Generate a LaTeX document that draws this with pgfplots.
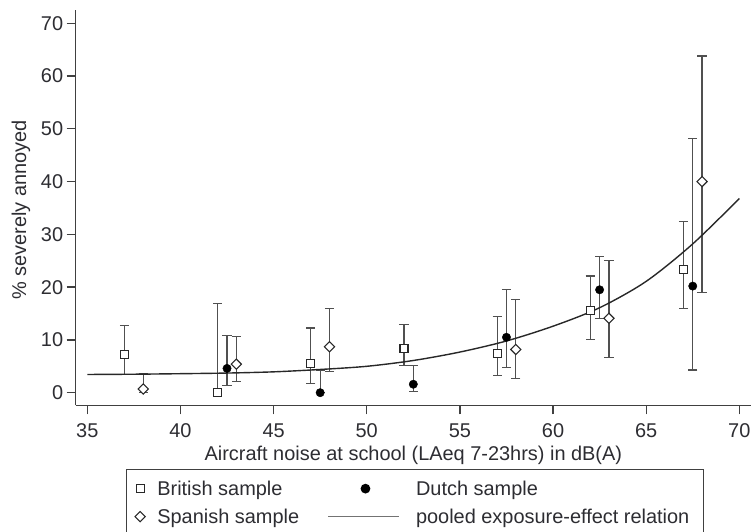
\documentclass[border=0pt]{standalone}
\usepackage{fontspec}
\setmainfont{Liberation Sans}
\usepackage{pgfplots}
\usepackage{pgfplotstable}
\pgfplotsset{compat=1.18}
\definecolor{axcol}{RGB}{64,64,64}
\definecolor{txt}{RGB}{45,45,50}
\definecolor{barcol}{RGB}{80,80,80}
\definecolor{mk}{RGB}{40,40,40}

% legend images with fixed cell boxes: mark at offset #1 inside a box of width #2
\pgfplotsset{
  markleg/.style 2 args={legend image code/.code={%
    \path[draw=none, fill=none] (0bp,-14bp) rectangle (#2,14bp);
    \draw[##1] plot coordinates {(#1,0bp)};}},
  lineleg/.style={legend image code/.code={%
    \path[draw=none, fill=none] (0bp,-14bp) rectangle (87.9bp,14bp);
    \draw[##1, color=gray!90!black, line width=1.7bp] (0bp,0bp) -- (71.3bp,0bp);}},
}

% x = noise (dB), y = % severely annoyed, ep/em = upper/lower CI distance
\pgfplotstableread{
x    y    ep    em
37   7.3  5.5   3.8
42   0.0  16.9  0.0
47   5.6  6.65  3.8
52   8.4  4.5   3.3
57   7.4  7.0   4.2
62   15.5 6.6   5.4
67   23.4 9.1   7.4
}\british

\pgfplotstableread{
x    y    ep    em
42.5 4.6  6.3   3.3
47.5 0.0  4.2   0.0
52.5 1.6  3.5   1.3
57.5 10.5 9.1   5.7
62.5 19.5 6.3   5.4
67.5 20.2 28.0  15.9
}\dutch

\pgfplotstableread{
x    y    ep    em
38   0.7  3.0   0.7
43   5.4  5.2   3.3
48   8.7  7.2   4.7
58   8.2  9.5   5.5
63   14.1 11.0  7.4
68   40.0 23.8  21.0
}\spanish

\begin{document}
\begin{tikzpicture}
\useasboundingbox (-75.7bp,-126.7bp) rectangle (675.3bp,405.3bp);
\begin{axis}[
  at={(0,0)}, anchor=south west,
  scale only axis, width=675.3bp, height=395.3bp,
  xmin=34.377, xmax=70.627, ymin=-2.39, ymax=72.52,
  axis x line*=bottom, axis y line*=left,
  axis line style={line width=1.4bp, color=axcol},
  xtick={35,40,...,70}, ytick={0,10,...,70},
  tick align=outside, major tick length=9bp,
  tick style={line width=1.3bp, color=axcol},
  /pgf/number format/assume math mode=true,
  ticklabel style={font=\fontsize{20}{24}\selectfont, text=txt},
  yticklabel style={inner sep=0pt, xshift=-3.4bp},
  xticklabel style={inner sep=0pt, yshift=-9.4bp},
  xlabel={Aircraft noise at school (LAeq 7-23hrs) in dB(A)},
  ylabel={\% severely annoyed},
  label style={font=\fontsize{20}{24}\selectfont, text=txt},
  xlabel style={at={(axis description cs:0.5,-0.1409)}, anchor=base},
  ylabel style={at={(axis description cs:-0.0736,0.494)}, anchor=base},
  legend columns=2, legend cell align=left,
  legend style={
    at={(axis description cs:0.07449,-0.16114)}, anchor=north west,
    draw=axcol, line width=1.3bp,
    font=\fontsize{20}{24}\selectfont, text=txt,
    inner xsep=0pt, inner ysep=5bp,
    nodes={inner sep=0pt},
    /tikz/row sep=0pt,
    /tikz/every odd column/.append style={column sep=0pt},
    /tikz/every even column/.append style={column sep=28.2bp},
  },
  error bars/y dir=both, error bars/y explicit,
  error bars/error bar style={line width=1.2bp, color=barcol},
  error bars/error mark=-,
  error bars/error mark options={rotate=90, mark size=4.6bp, line width=1.2bp, color=barcol},
]
\addplot[only marks, mark=square*, mark size=4bp,
  mark options={draw=mk, fill=white, line width=1.1bp}, markleg={13.5bp}{30.7bp}]
  table[x=x, y=y, y error plus=ep, y error minus=em]{\british};
\addlegendentry{British sample}

\addplot[only marks, mark=*, mark size=4.2bp,
  mark options={draw=black, fill=black}, markleg={37.3bp}{87.9bp}]
  table[x=x, y=y, y error plus=ep, y error minus=em]{\dutch};
\addlegendentry{Dutch sample}

\addplot[only marks, mark=square*, mark size=3.6bp,
  mark options={draw=mk, fill=white, line width=1.1bp, rotate=45}, markleg={13.5bp}{30.7bp}]
  table[x=x, y=y, y error plus=ep, y error minus=em]{\spanish};
\addlegendentry{Spanish sample}

\addplot[smooth, no marks, line width=1.4bp, color=mk, lineleg]
  coordinates {
  (35,3.45) (37.5,3.5) (40,3.6) (42.5,3.72) (45,3.95) (47.5,4.4)
  (50,5.0) (52.5,6.1) (55,7.7) (57.5,9.8) (60,12.6) (62.5,16.1)
  (65,21.1) (67.5,28.2) (70,36.8)
  };
\addlegendentry{pooled exposure-effect relation\hspace{14bp}\mbox{}}
\end{axis}
\end{tikzpicture}
\end{document}
